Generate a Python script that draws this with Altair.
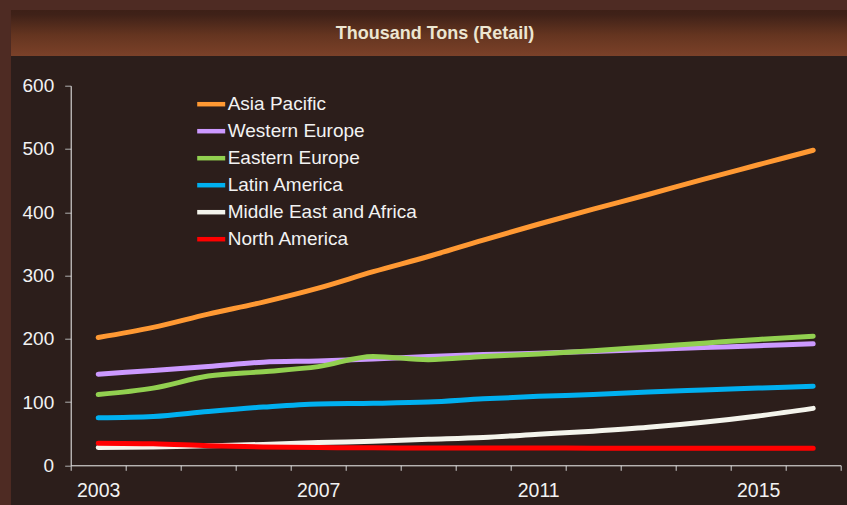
import altair as alt
import pandas as pd

years = [str(y) for y in range(2003, 2017)]
label_years = ["2003", "2007", "2011", "2015"]
title_text = "Thousand Tons (Retail)"

series_names = ["Asia Pacific", "Western Europe", "Eastern Europe", "Latin America",
                "Middle East and Africa", "North America"]
series_colors = ["#ff9933", "#cc99ff", "#92d050", "#00b0f0", "#f4f4ec", "#ff0000"]

asia_pacific = [202, 218, 239, 258, 280, 306, 330, 356, 381, 405, 428, 452, 475, 498]
western_europe = [144, 150, 156, 163, 165, 168, 172, 175, 177, 180, 183, 186, 189, 192]
eastern_europe = [112, 122, 141, 148, 156, 172, 167, 172, 176, 181, 187, 193, 199, 204]
latin_america = [75, 77, 85, 92, 97, 98, 100, 105, 109, 112, 116, 119, 122, 125]
middle_east_africa = [28, 29, 31, 33, 36, 38, 41, 44, 49, 54, 60, 68, 78, 90]
north_america = [35, 34, 31, 29, 28, 27.6, 27.4, 27.3, 27.2, 27.1, 27.0, 27.0, 27.0, 27.0]

values = [asia_pacific, western_europe, eastern_europe, latin_america,
          middle_east_africa, north_america]

rows = []
for name, vals in zip(series_names, values):
    for yr, v in zip(years, vals):
        rows.append({"year": yr, "series": name, "value": v})
df = pd.DataFrame(rows)

W, H = 770, 379.6
PL, PT = 70.7, 85.7

panel = alt.Chart(alt.Data(values=[{"a": 1}])).mark_rect(color="#2c1e1b").encode(
    x=alt.value(11 - PL), x2=alt.value(847 - PL),
    y=alt.value(10 - PT), y2=alt.value(505 - PT))

header = alt.Chart(alt.Data(values=[{"a": 1}])).mark_rect(
    color=alt.Gradient(gradient="linear", x1=0, x2=0, y1=0, y2=1,
                       stops=[alt.GradientStop(color="#3d2017", offset=0),
                              alt.GradientStop(color="#3f2118", offset=0.1),
                              alt.GradientStop(color="#653520", offset=0.55),
                              alt.GradientStop(color="#7b4129", offset=1)])
).encode(
    x=alt.value(11 - PL), x2=alt.value(847 - PL),
    y=alt.value(10 - PT), y2=alt.value(56 - PT))

title = alt.Chart(alt.Data(values=[{"t": title_text}])).mark_text(
    font="Liberation Sans", fontSize=18, fontWeight="bold", color="#ece6d2",
    align="center", baseline="middle"
).encode(text="t:N", x=alt.value(435 - PL), y=alt.value(34 - PT))

label_expr = "indexof(" + str(label_years) + ", datum.label) >= 0 ? datum.label : ''"

lines = alt.Chart(df).mark_line(strokeWidth=5, strokeCap="round", strokeJoin="round",
                                interpolate="monotone").encode(
    x=alt.X("year:O", bandPosition=0.5,
            scale=alt.Scale(type="band", paddingInner=0, paddingOuter=0, domain=years),
            axis=alt.Axis(title=None, labelAngle=0, tickBand="extent", labelExpr=label_expr,
                          labelFontSize=19.5, labelColor="#f2f2f2", labelPadding=11,
                          tickSize=5, tickColor="#d0d0d0", domainColor="#f2f2f2",
                          labelFont="Liberation Sans", grid=False, zindex=1)),
    y=alt.Y("value:Q", scale=alt.Scale(domain=[0, 600], nice=False),
            axis=alt.Axis(title=None, values=[0, 100, 200, 300, 400, 500, 600],
                          labelFontSize=19, labelColor="#f2f2f2", labelPadding=11,
                          tickSize=6, tickColor="#b0b0b0", domainColor="#f2f2f2",
                          labelFont="Liberation Sans", grid=False, zindex=1)),
    color=alt.Color("series:N", sort=series_names,
                    scale=alt.Scale(domain=series_names, range=series_colors),
                    legend=alt.Legend(title=None, orient="none", legendX=124, legendY=2,
                                      symbolType="stroke", symbolSize=784,
                                      symbolStrokeWidth=4.5, labelFontSize=19,
                                      labelColor="#f2f2f2", labelFont="Liberation Sans",
                                      labelOffset=0, rowPadding=0, labelLimit=400)),
    order=alt.Order("year:O"),
)

chart = alt.layer(panel, header, title, lines).properties(
    width=W, height=H,
    padding={"left": PL, "top": PT, "right": 847 - PL - W, "bottom": 505 - PT - H},
    autosize=alt.AutoSizeParams(type="none"),
    background="#4e2b23",
).configure_view(stroke=None)

chart.save("out.html", embed_options={"renderer": "svg", "actions": False})
